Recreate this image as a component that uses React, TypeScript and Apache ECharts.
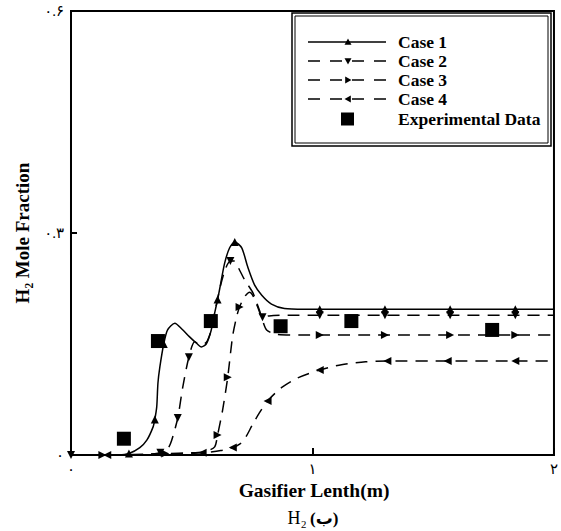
import React, { useEffect, useRef } from "react";
import * as echarts from "echarts";

const xTickLabels = ["۰", "۱", "۲"];
const yTickLabels = ["۰", "۰.۳", "۰.۶"];
const seriesNames = ["Case 1", "Case 2", "Case 3", "Case 4", "Experimental Data"];

const case1: number[][] = [
  [0, 0], [0.2, 0], [0.24, 0.002], [0.285, 0.01], [0.314, 0.02], [0.34, 0.038], [0.347, 0.048],
  [0.355, 0.065], [0.36, 0.097], [0.368, 0.119], [0.384, 0.15], [0.4, 0.169], [0.43, 0.178],
  [0.46, 0.17], [0.49, 0.16], [0.52, 0.151], [0.54, 0.146], [0.56, 0.15], [0.58, 0.168],
  [0.595, 0.192], [0.607, 0.21], [0.616, 0.225], [0.636, 0.259], [0.657, 0.28], [0.678, 0.288],
  [0.707, 0.28], [0.731, 0.255], [0.76, 0.23], [0.79, 0.216], [0.83, 0.204], [0.884, 0.198],
  [0.967, 0.197], [1.03, 0.197], [1.3, 0.197], [1.57, 0.197], [1.84, 0.197], [2, 0.197],
];
const case1Markers = [0.24, 0.347, 0.384, 0.607, 0.678, 1.03, 1.3, 1.57, 1.84];

const case2: number[][] = [
  [0, 0], [0.3, 0], [0.37, 0.003], [0.4, 0.008], [0.417, 0.02], [0.442, 0.05], [0.463, 0.092],
  [0.488, 0.132], [0.512, 0.153], [0.535, 0.149], [0.56, 0.152], [0.58, 0.168], [0.6, 0.2],
  [0.62, 0.23], [0.64, 0.252], [0.66, 0.262], [0.675, 0.262], [0.69, 0.255], [0.72, 0.236],
  [0.752, 0.22], [0.78, 0.196], [0.793, 0.186], [0.82, 0.188], [0.9, 0.189], [1.03, 0.189],
  [1.3, 0.189], [1.57, 0.189], [1.84, 0.189], [2, 0.189],
];
const case2Markers = [0, 0.37, 0.442, 0.488, 0.66, 0.793, 1.03, 1.3, 1.57, 1.84];

const case3: number[][] = [
  [0, 0], [0.13, 0], [0.39, 0.002], [0.5, 0.003], [0.56, 0.005], [0.595, 0.011], [0.607, 0.027],
  [0.628, 0.061], [0.649, 0.105], [0.669, 0.16], [0.686, 0.187], [0.698, 0.2], [0.719, 0.214],
  [0.74, 0.22], [0.752, 0.216], [0.773, 0.2], [0.793, 0.182], [0.81, 0.169], [0.85, 0.163],
  [0.95, 0.162], [1.03, 0.162], [1.3, 0.162], [1.57, 0.162], [1.84, 0.162], [2, 0.162],
];
const case3Markers = [0.13, 0.39, 0.607, 0.649, 0.698, 1.03, 1.3, 1.57, 1.84];

const case4: number[][] = [
  [0, 0], [0.15, 0], [0.4, 0.001], [0.545, 0.003], [0.62, 0.006], [0.67, 0.01], [0.7, 0.015],
  [0.72, 0.022], [0.75, 0.04], [0.78, 0.057], [0.814, 0.073], [0.85, 0.085], [0.876, 0.092],
  [0.938, 0.104], [1.03, 0.115], [1.12, 0.122], [1.22, 0.126], [1.31, 0.127], [1.56, 0.127],
  [1.84, 0.127], [2, 0.127],
];
const case4Markers = [0.15, 0.545, 0.67, 0.814, 1.03, 1.31, 1.56, 1.84];

const experimental: number[][] = [
  [0.219, 0.022], [0.36, 0.154], [0.579, 0.181], [0.868, 0.174], [1.161, 0.181], [1.744, 0.169],
];

const SERIF = "'Liberation Serif', 'Times New Roman', 'DejaVu Serif', 'DejaVu Sans', serif";

function buildLine(points: number[][], markers: number[], rot: number) {
  return points.map((p) =>
    markers.includes(p[0])
      ? { value: p, symbol: "triangle", symbolSize: 8, symbolRotate: rot }
      : { value: p, symbol: "none" }
  );
}

function tri(cx: number, cy: number, dir: string, s: number) {
  const h = s / 2;
  if (dir === "up") return [[cx - h, cy + h * 0.8], [cx + h, cy + h * 0.8], [cx, cy - h]];
  if (dir === "down") return [[cx - h, cy - h * 0.8], [cx + h, cy - h * 0.8], [cx, cy + h]];
  if (dir === "right") return [[cx - h * 0.8, cy - h], [cx - h * 0.8, cy + h], [cx + h, cy]];
  return [[cx + h * 0.8, cy - h], [cx + h * 0.8, cy + h], [cx - h, cy]];
}

export default function App() {
  const ref = useRef<HTMLDivElement>(null);
  useEffect(() => {
    const chart = echarts.init(ref.current!, null, { renderer: "svg" });
    const lineBase = { type: "line", smooth: 0.25, showSymbol: true, z: 3 };
    const dash = [12, 8];
    const legendRows = [42, 61, 80, 99, 119];
    const dirs = ["up", "down", "right", "left"];
    const legendEls: any[] = [
      { type: "rect", shape: { x: 292, y: 13, width: 259, height: 133 }, style: { fill: "#fff", stroke: "#000", lineWidth: 1.5 }, z: 10 },
      { type: "rect", shape: { x: 295, y: 16, width: 253, height: 127 }, style: { fill: "none", stroke: "#000", lineWidth: 1 }, z: 10 },
    ];
    for (let i = 0; i < 4; i++) {
      const y = legendRows[i];
      legendEls.push({
        type: "line",
        shape: { x1: 308, y1: y, x2: 386, y2: y },
        style: { stroke: "#000", lineWidth: 1.5, lineDash: i === 0 ? null : [12, 10] },
        z: 11,
      });
      legendEls.push({ type: "polygon", shape: { points: tri(348, y, dirs[i], 7) }, style: { fill: "#000" }, z: 11 });
    }
    legendEls.push({ type: "rect", shape: { x: 341, y: legendRows[4] - 6.5, width: 13, height: 13 }, style: { fill: "#000" }, z: 11 });
    for (let i = 0; i < 5; i++) {
      legendEls.push({
        type: "text",
        x: 398,
        y: legendRows[i],
        style: { text: seriesNames[i], fontSize: 17.5, fontWeight: "bold", fontFamily: SERIF, fill: "#000", align: "left", verticalAlign: "middle" },
        z: 11,
      });
    }
    const option: any = {
      animation: false,
      backgroundColor: "#fff",
      grid: { left: 71, right: 7, top: 11, bottom: 76, show: true, borderColor: "#000", borderWidth: 2, backgroundColor: "transparent" },
      xAxis: {
        type: "value", min: 0, max: 2, interval: 1,
        axisLine: { show: true, lineStyle: { color: "#000", width: 2 } },
        axisTick: { show: true, inside: true, length: 7, lineStyle: { color: "#000", width: 2 } },
        splitLine: { show: false },
        axisLabel: { margin: 6, fontSize: 15, color: "#000", fontFamily: SERIF, formatter: (v: number) => xTickLabels[Math.round(v)] },
      },
      yAxis: {
        type: "value", min: 0, max: 0.6, interval: 0.3,
        axisLine: { show: true, lineStyle: { color: "#000", width: 2 } },
        axisTick: { show: true, inside: true, length: 6, lineStyle: { color: "#000", width: 2 } },
        splitLine: { show: false },
        axisLabel: { margin: 7, fontSize: 15, color: "#000", fontFamily: SERIF, formatter: (v: number) => yTickLabels[Math.round(v / 0.3)] },
      },
      series: [
        { ...lineBase, name: seriesNames[0], data: buildLine(case1, case1Markers, 0), lineStyle: { color: "#000", width: 1.5, type: "solid" }, itemStyle: { color: "#000" } },
        { ...lineBase, name: seriesNames[1], data: buildLine(case2, case2Markers, 180), lineStyle: { color: "#000", width: 1.5, type: dash }, itemStyle: { color: "#000" } },
        { ...lineBase, name: seriesNames[2], data: buildLine(case3, case3Markers, -90), lineStyle: { color: "#000", width: 1.5, type: dash }, itemStyle: { color: "#000" } },
        { ...lineBase, name: seriesNames[3], data: buildLine(case4, case4Markers, 90), lineStyle: { color: "#000", width: 1.5, type: dash }, itemStyle: { color: "#000" } },
        { type: "scatter", name: seriesNames[4], data: experimental, symbol: "rect", symbolSize: 14, itemStyle: { color: "#000", opacity: 1 }, z: 5 },
      ],
      graphic: [
        {
          type: "text", x: 22, y: 233, rotation: Math.PI / 2,
          style: { text: "H₂ Mole Fraction", fontSize: 19, fontWeight: "bold", fontFamily: SERIF, fill: "#000", align: "center", verticalAlign: "middle" },
        },
        {
          type: "text", x: 314, y: 490,
          style: { text: "Gasifier Lenth(m)", fontSize: 19.5, fontWeight: "bold", fontFamily: SERIF, fill: "#000", align: "center", verticalAlign: "middle" },
        },
        {
          type: "text", x: 313, y: 518,
          style: {
            text: "{r|H₂} {b|(ب)}", align: "center", verticalAlign: "middle",
            rich: {
              r: { fontSize: 18, fontFamily: SERIF, fill: "#000", color: "#000" },
              b: { fontSize: 17, fontWeight: "bold", fontFamily: SERIF, fill: "#000", color: "#000" },
            },
          },
        },
        ...legendEls,
      ],
    };
    chart.setOption(option);
    return () => chart.dispose();
  }, []);
  return <div ref={ref} style={{ position: "absolute", left: 0, top: 0, width: 561, height: 531, background: "#fff" }} />;
}
